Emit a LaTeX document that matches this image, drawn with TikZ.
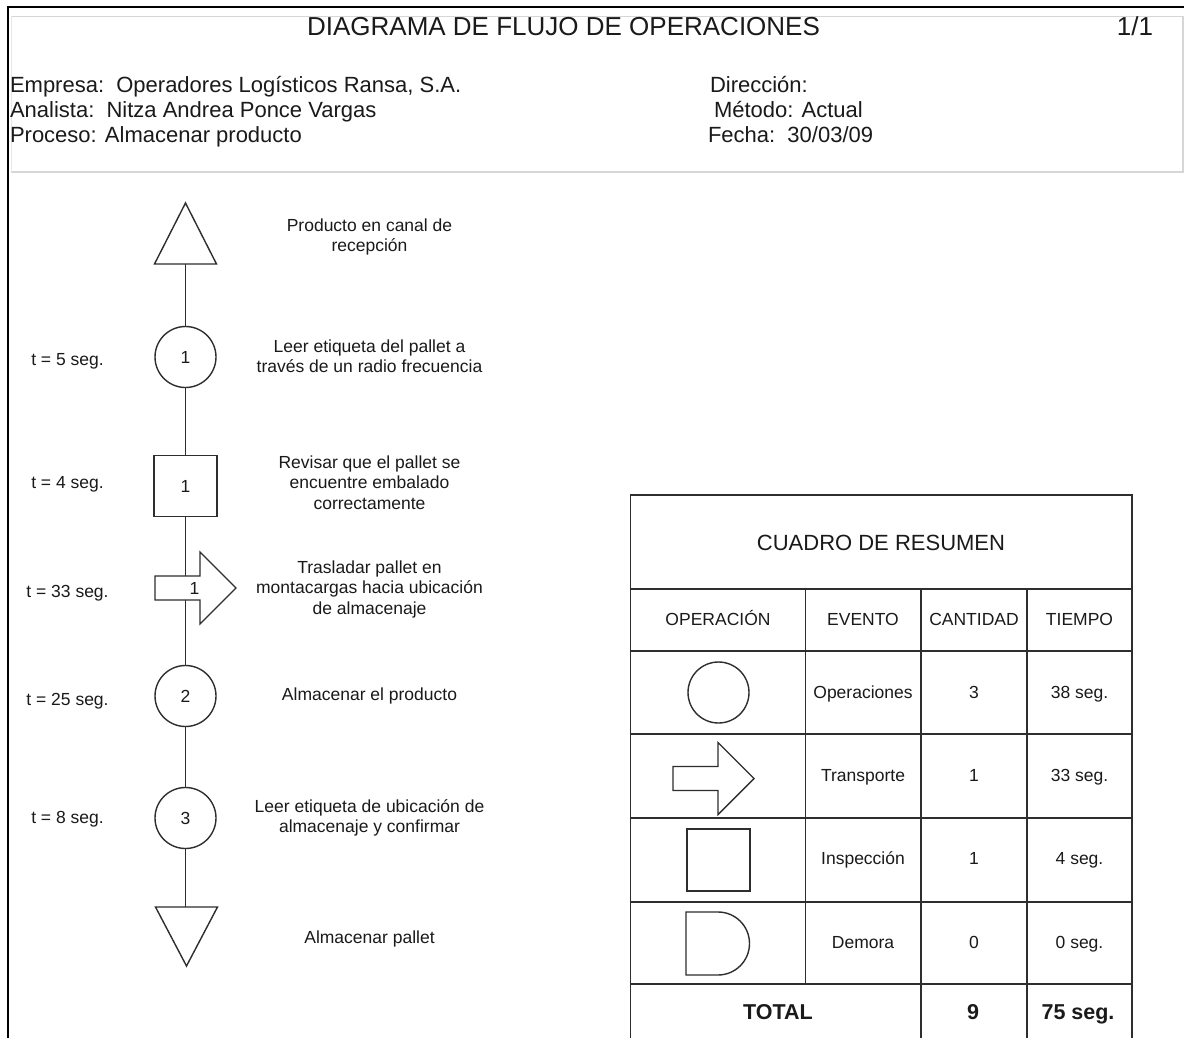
\documentclass[tikz,border=0pt]{standalone}
\usepackage{fontspec}
\setmainfont{Liberation Sans}
\usetikzlibrary{calc}

\definecolor{ink}{HTML}{1A1A1A}
\definecolor{rule}{HTML}{2E2E2E}
\definecolor{frameg}{HTML}{D6D6D6}

\newcommand\smallfs{\fontsize{17.5}{20.5}\selectfont}
\newcommand\headfs{\fontsize{22}{25}\selectfont}
\newcommand\titlefs{\fontsize{26}{30}\selectfont}
\newcommand\totalfs{\fontsize{21.5}{25}\selectfont\bfseries}

% transport arrow drawn around its body node
\newcommand\arrowoutline[1]{%
  \draw[sym] (#1.north west) -- (#1.north east) -- ++(0,-24) -- ++(36,36)
    -- ++(-36,36) -- ++(0,-24) -- (#1.south west) -- cycle;}

\begin{document}
\begin{tikzpicture}[x=1pt,y=-1pt,
  every node/.style={inner sep=0pt, outer sep=0pt, text=ink},
  sym/.style={draw=rule, line width=1.4pt},
  link/.style={draw=rule, line width=1.4pt},
  gridline/.style={draw=rule, line width=1.7pt},
  opcircle/.style={sym, circle, minimum size=61pt, font=\smallfs},
  inspbox/.style={sym, rectangle, minimum width=63pt, minimum height=61pt, font=\smallfs},
  hidden/.style={rectangle, draw=none},
  lbl/.style={font=\smallfs, anchor=base},
  desc/.style={font=\smallfs, anchor=north, align=center},
  head/.style={font=\headfs, anchor=base west},
  cell/.style={font=\smallfs, anchor=base},
  totcell/.style={font=\totalfs, anchor=base}
]
\fill[white] (0,0) rectangle (1184,1038);
\useasboundingbox (0,0) rectangle (1184,1038);

% page frame and header band
\draw[frameg, line width=1.8pt] (11,16.5) -- (1183,16.5) -- (1183,172) -- (11,172);
\draw[frameg!60, line width=1pt] (11,16.5) -- (11,172);
\draw[black, line width=2.2pt] (8,1045) -- (8,7) -- (1190,7);

% header
\node[font=\titlefs, anchor=base] (title) at (563.5,36) {DIAGRAMA DE FLUJO DE OPERACIONES};
\node[font=\titlefs, anchor=base east] (page) at (1153,36) {1/1};
\node[head] (empresa) at (10,93) {Empresa:\ \ Operadores Logísticos Ransa, S.A.};
\node[head] (analista) at (10,118) {Analista:\ \ Nitza Andrea Ponce Vargas};
\node[head] (proceso) at (10,143) {Proceso: Almacenar producto};
\node[head] (direccion) at (710,93) {Dirección:};
\node[head] (metodo) at (714,118) {Método: Actual};
\node[head] (fecha) at (708,143) {Fecha:\ \ 30/03/09};

% flow symbols
\node[hidden, minimum width=62pt, minimum height=61pt] (t0) at (185.5,233.5) {};
\draw[sym] (t0.north) -- (t0.south east) -- (t0.south west) -- cycle;
\node[opcircle] (op1) at (185.5,357) {1};
\node[inspbox] (insp) at (185.5,486) {1};
\node[hidden, minimum width=45pt, minimum height=24pt] (trb) at (177.5,588) {};
\arrowoutline{trb}
\node[font=\smallfs] (trn) at (194.5,588) {1};
\node[opcircle] (op2) at (185.5,696) {2};
\node[opcircle] (op3) at (185.5,818) {3};
\node[hidden, minimum width=62pt, minimum height=59pt] (t1) at (186.5,936.5) {};
\draw[sym] (t1.north west) -- (t1.north east) -- (t1.south) -- cycle;

% connectors
\draw[link] (t0) -- (op1);
\draw[link] (op1) -- (insp);
\draw[link] (insp.south) -- (insp.south |- trb.north);
\draw[link] (op2.north |- trb.south) -- (op2.north);
\draw[link] (op2) -- (op3);
\draw[link] (op3.south) -- (op3.south |- t1.north);

% times
\node[lbl] (tm1) at (67.5,365) {t = 5 seg.};
\node[lbl] (tm2) at (67.5,488) {t = 4 seg.};
\node[lbl] (tm3) at (67.5,597) {t = 33 seg.};
\node[lbl] (tm4) at (67.5,705) {t = 25 seg.};
\node[lbl] (tm5) at (67.5,823) {t = 8 seg.};

% step descriptions
\node[desc] (d0) at (369.5,218.5) {Producto en canal de\\recepción};
\node[desc] (d1) at (369.5,339.5) {Leer etiqueta del pallet a\\través de un radio frecuencia};
\node[desc] (d2) at (369.5,455.5) {Revisar que el pallet se\\encuentre embalado\\correctamente};
\node[desc] (d3) at (369.5,560.5) {Trasladar pallet en\\montacargas hacia ubicación\\de almacenaje};
\node[lbl] (d4) at (369.5,700) {Almacenar el producto};
\node[desc] (d5) at (369.5,799.5) {Leer etiqueta de ubicación de\\almacenaje y confirmar};
\node[lbl] (d6) at (369.5,943) {Almacenar pallet};

% summary table grid
\draw[gridline] (630.5,1045) -- (630.5,495) -- (1132,495) -- (1132,1045);
\foreach \yy in {589,651,734,818,902,984}
  \draw[gridline] (630.5,\yy) -- (1132,\yy);
\draw[gridline] (805.5,589) -- (805.5,984);
\draw[gridline] (921,589) -- (921,1045);
\draw[gridline] (1027,589) -- (1027,1045);

\node[font=\headfs, anchor=base] (ctitle) at (881,550) {CUADRO DE RESUMEN};
\node[cell] (h1) at (718,625) {OPERACIÓN};
\node[cell] (h2) at (863,625) {EVENTO};
\node[cell] (h3) at (974,625) {CANTIDAD};
\node[cell] (h4) at (1079.5,625) {TIEMPO};

% table symbols
\node[opcircle] (sop) at (718.5,692.5) {};
\node[hidden, minimum width=45pt, minimum height=24pt] (stra) at (695.5,778.5) {};
\arrowoutline{stra}
\node[inspbox, minimum width=63pt, minimum height=62pt] (sins) at (718.5,860) {};
\node[hidden, minimum width=64pt, minimum height=63pt] (sdem) at (718,943.5) {};
\draw[sym] (sdem.north west) -- (718,912)
  .. controls (735.4,912) and (749.5,926.1) .. (749.5,943.5)
  .. controls (749.5,960.9) and (735.4,975) .. (718,975)
  -- (sdem.south west) -- cycle;

% table rows
\node[cell] (e1) at (863,698) {Operaciones};
\node[cell] (q1) at (974,698) {3};
\node[cell] (s1) at (1079.5,698) {38 seg.};
\node[cell] (e2) at (863,781) {Transporte};
\node[cell] (q2) at (974,781) {1};
\node[cell] (s2) at (1079.5,781) {33 seg.};
\node[cell] (e3) at (863,864) {Inspección};
\node[cell] (q3) at (974,864) {1};
\node[cell] (s3) at (1079.5,864) {4 seg.};
\node[cell] (e4) at (863,948) {Demora};
\node[cell] (q4) at (974,948) {0};
\node[cell] (s4) at (1079.5,948) {0 seg.};

\node[totcell] (tt) at (778,1019) {TOTAL};
\node[totcell] (tq) at (973,1019) {9};
\node[totcell] (ts) at (1078,1019) {75 seg.};
\end{tikzpicture}
\end{document}
